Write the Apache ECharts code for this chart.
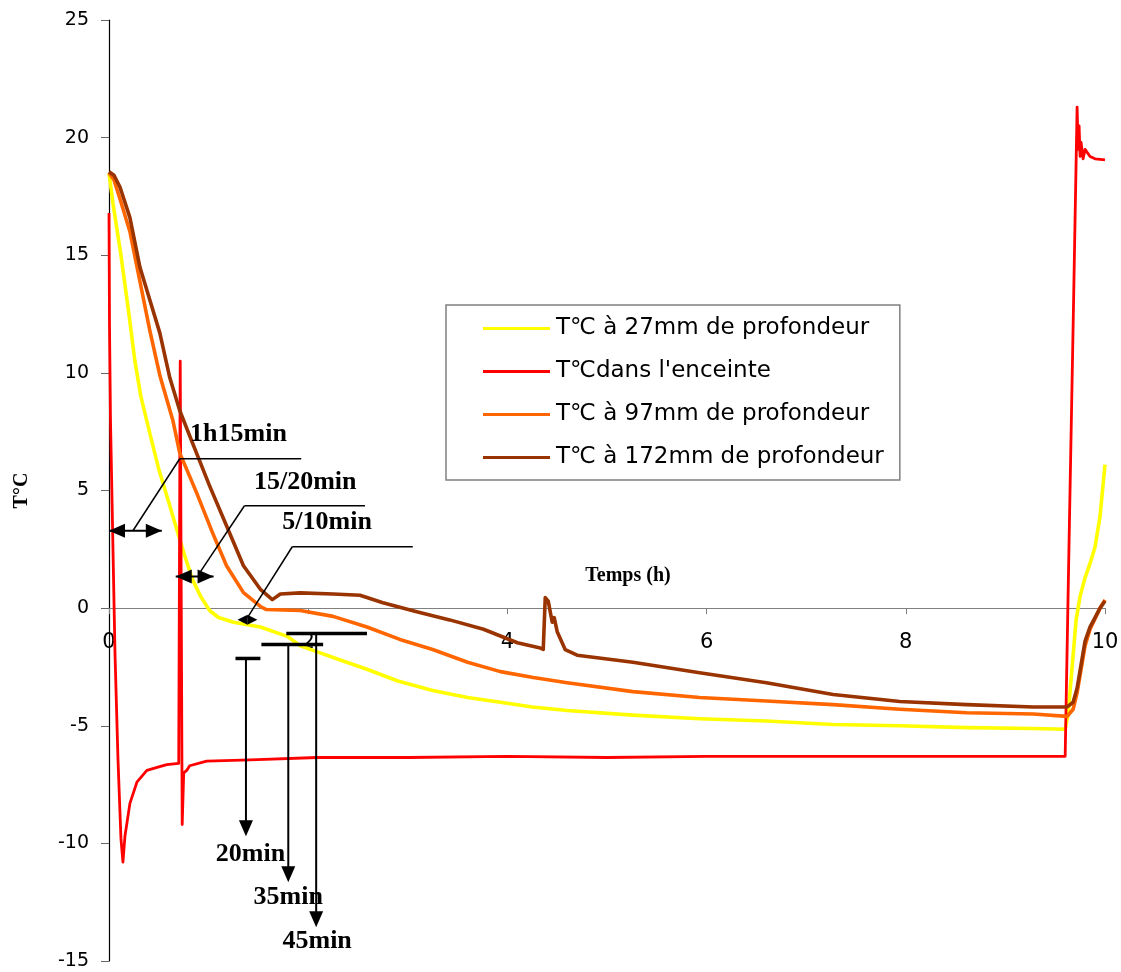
<!DOCTYPE html>
<html>
<head>
<meta charset="utf-8">
<script src="https://cdn.jsdelivr.net/npm/echarts@6/dist/echarts.min.js"></script>
<style>
html,body{margin:0;padding:0;background:#fff;}
#chart{width:1121px;height:972px;}
</style>
</head>
<body>
<div id="chart"></div>
<script>
// ---------- Data (time in hours, temperature in °C) ----------
const seriesNames = [
  "T\u2103 \u00e0 27mm de profondeur",
  "T\u2103dans l'enceinte",
  "T\u2103 \u00e0 97mm de profondeur",
  "T\u2103 \u00e0 172mm de profondeur"
];
const seriesColors = ["#FFFF00", "#FF0000", "#FF6600", "#993300"];

const t27 = [0,0.04,0.12,0.2,0.26,0.32,0.4,0.5,0.6,0.69,0.77,0.84,0.92,1.01,1.1,1.25,1.52,1.79,1.92,2.12,2.35,2.59,2.9,3.25,3.6,3.93,4.25,4.6,5.26,5.93,6.6,7.27,7.94,8.61,9.28,9.6,9.63,9.67,9.71,9.75,9.8,9.85,9.9,9.95,10];
const v27 = [18.5,17.2,15.0,12.5,10.5,9.0,7.6,5.9,4.5,3.2,2.1,1.2,0.5,-0.1,-0.4,-0.6,-0.8,-1.2,-1.6,-1.9,-2.25,-2.6,-3.1,-3.5,-3.8,-4.0,-4.2,-4.35,-4.55,-4.7,-4.8,-4.95,-5.0,-5.08,-5.12,-5.15,-4.5,-2.5,-0.5,0.5,1.3,1.9,2.6,3.9,6.1];

const tAir = [0,0.005,0.015,0.06,0.09,0.12,0.14,0.16,0.21,0.28,0.38,0.5,0.58,0.7,0.715,0.735,0.75,0.78,0.81,0.98,1.42,2.09,3,4,5,6,7,8,9,9.6,9.64,9.68,9.72,9.73,9.74,9.75,9.76,9.78,9.8,9.85,9.9,10];
const vAir = [16.8,12,8,-1.9,-6.4,-9.8,-10.8,-9.7,-8.3,-7.4,-6.9,-6.75,-6.65,-6.6,10.5,-9.2,-7.0,-6.9,-6.7,-6.5,-6.45,-6.35,-6.35,-6.3,-6.35,-6.3,-6.3,-6.3,-6.3,-6.3,3,12,21.3,19.5,20.5,19.2,19.8,19.1,19.5,19.2,19.1,19.05];

const t97 = [0,0.05,0.11,0.21,0.31,0.41,0.51,0.64,0.71,0.88,1.04,1.18,1.35,1.52,1.58,1.92,2.25,2.59,2.92,3.25,3.6,3.93,4.26,4.6,5.26,5.93,6.6,7.27,7.94,8.61,9.28,9.62,9.68,9.72,9.76,9.8,9.85,9.9,9.95,10];
const v97 = [18.5,18.2,17.4,16.0,13.9,11.8,9.9,8.0,6.6,4.9,3.2,1.8,0.66,0.07,-0.06,-0.1,-0.35,-0.8,-1.33,-1.76,-2.3,-2.7,-2.95,-3.17,-3.55,-3.8,-3.95,-4.1,-4.3,-4.45,-4.5,-4.6,-4.3,-3.6,-2.6,-1.6,-0.9,-0.45,0,0.35];

const t172 = [0,0.05,0.11,0.21,0.31,0.41,0.51,0.61,0.71,0.84,1.01,1.18,1.35,1.52,1.64,1.72,1.92,2.25,2.52,2.75,3.09,3.42,3.76,4.1,4.33,4.36,4.38,4.41,4.45,4.47,4.5,4.58,4.7,5.26,5.93,6.6,7.27,7.94,8.61,9.28,9.62,9.68,9.72,9.76,9.8,9.85,9.9,9.95,10];
const v172 = [18.55,18.4,17.9,16.6,14.5,13.1,11.7,9.8,8.4,7.0,5.2,3.5,1.8,0.8,0.36,0.6,0.65,0.6,0.55,0.23,-0.15,-0.5,-0.9,-1.47,-1.7,-1.75,0.45,0.3,-0.6,-0.4,-1.0,-1.76,-2.0,-2.3,-2.75,-3.17,-3.67,-3.97,-4.1,-4.2,-4.2,-4.0,-3.4,-2.4,-1.4,-0.8,-0.4,0,0.3];

// axis ranges / ticks
const xMin = 0, xMax = 10, xStep = 2;
const yMin = -15, yMax = 25, yStep = 5;

// ---------- Annotations (data coordinates) ----------
const leaderLines = [            // [x1, y1, x2, y2]
  [0.71, 6.35, 1.93, 6.35], [0.71, 6.35, 0.24, 3.29],
  [1.36, 4.35, 2.57, 4.35], [1.36, 4.35, 0.91, 1.50],
  [1.84, 2.61, 3.05, 2.61], [1.84, 2.61, 1.39, -0.40]
];
const doubleArrows = [           // [x1, x2, y]
  [0.0, 0.53, 3.29], [0.67, 1.05, 1.34]
];
const smallDoubleArrows = [[1.29, 1.49, -0.49]];
const tBars = [                   // [x1, x2, y]
  [1.27, 1.52, -2.14], [1.53, 2.15, -1.55], [1.78, 2.59, -1.08]
];
const downArrows = [              // [x, yTop, yTip]
  [1.375, -2.14, -9.7], [1.80, -1.55, -11.65], [2.08, -1.08, -13.57]
];
const annoLabels = [              // [x, y, text]
  [1.30, 7.37, "1h15min"],
  [1.97, 5.37, "15/20min"],
  [2.19, 3.63, "5/10min"],
  [1.42, -10.46, "20min"],
  [1.80, -12.3, "35min"],
  [2.09, -14.16, "45min"]
];

// ---------- helpers ----------
function zip(t, v) { return t.map((x, i) => [x, v[i]]); }
function arrowHead(p1, p2, len, hw) {
  const dx = p2[0] - p1[0], dy = p2[1] - p1[1];
  const L = Math.sqrt(dx * dx + dy * dy) || 1;
  const ux = dx / L, uy = dy / L;
  const bx = p2[0] - ux * len, by = p2[1] - uy * len;
  return {
    type: 'polygon',
    shape: { points: [[p2[0], p2[1]], [bx - uy * hw, by + ux * hw], [bx + uy * hw, by - ux * hw]] },
    style: { fill: '#000' }
  };
}
const lineStyleBlack = (w) => ({ stroke: '#000', lineWidth: w });

const W = 1121, H = 972;
const gridTop = 20, gridBottom = 11, gridLeft = 109, gridRight = 16;
const plotH = H - gridTop - gridBottom;
// move the x axis up so that it sits on y = 0
const xAxisOffset = -plotH * (0 - yMin) / (yMax - yMin);

const chart = echarts.init(document.getElementById('chart'), null, { renderer: 'canvas' });

const lineSeries = [[t27, v27], [tAir, vAir], [t97, v97], [t172, v172]].map((s, i) => ({
  type: 'line',
  name: seriesNames[i],
  data: zip(s[0], s[1]),
  showSymbol: false,
  symbol: 'none',
  lineStyle: { color: seriesColors[i], width: i === 1 ? 2.8 : 3.6, join: 'round' },
  itemStyle: { color: seriesColors[i] },
  z: 2 + i
}));

const annoSeries = [
  {
    type: 'custom', name: 'leaders', silent: true, clip: false, z: 10,
    data: leaderLines,
    encode: { x: [0, 2], y: [1, 3] },
    renderItem: (params, api) => {
      const p1 = api.coord([api.value(0), api.value(1)]);
      const p2 = api.coord([api.value(2), api.value(3)]);
      return { type: 'line', shape: { x1: p1[0], y1: p1[1], x2: p2[0], y2: p2[1] }, style: lineStyleBlack(1.5) };
    }
  },
  {
    type: 'custom', name: 'doubleArrows', silent: true, clip: false, z: 10,
    data: doubleArrows,
    encode: { x: [0, 1], y: 2 },
    renderItem: (params, api) => {
      const a = api.coord([api.value(0), api.value(2)]);
      const b = api.coord([api.value(1), api.value(2)]);
      return { type: 'group', children: [
        { type: 'line', shape: { x1: a[0], y1: a[1], x2: b[0], y2: b[1] }, style: lineStyleBlack(2) },
        arrowHead(b, a, 16, 7), arrowHead(a, b, 16, 7)
      ] };
    }
  },
  {
    type: 'custom', name: 'smallDoubleArrows', silent: true, clip: false, z: 10,
    data: smallDoubleArrows,
    encode: { x: [0, 1], y: 2 },
    renderItem: (params, api) => {
      const a = api.coord([api.value(0), api.value(2)]);
      const b = api.coord([api.value(1), api.value(2)]);
      const m = [(a[0] + b[0]) / 2, a[1]];
      return { type: 'group', children: [
        arrowHead(m, a, 10, 5), arrowHead(m, b, 10, 5)
      ] };
    }
  },
  {
    type: 'custom', name: 'tBars', silent: true, clip: false, z: 10,
    data: tBars,
    encode: { x: [0, 1], y: 2 },
    renderItem: (params, api) => {
      const a = api.coord([api.value(0), api.value(2)]);
      const b = api.coord([api.value(1), api.value(2)]);
      return { type: 'line', shape: { x1: a[0], y1: a[1], x2: b[0], y2: b[1] }, style: lineStyleBlack(3.5) };
    }
  },
  {
    type: 'custom', name: 'downArrows', silent: true, clip: false, z: 10,
    data: downArrows,
    encode: { x: 0, y: [1, 2] },
    renderItem: (params, api) => {
      const a = api.coord([api.value(0), api.value(1)]);
      const b = api.coord([api.value(0), api.value(2)]);
      return { type: 'group', children: [
        { type: 'line', shape: { x1: a[0], y1: a[1], x2: b[0], y2: b[1] - 10 }, style: lineStyleBlack(2) },
        arrowHead(a, b, 16, 7)
      ] };
    }
  },
  {
    type: 'custom', name: 'labels', silent: true, clip: false, z: 11,
    data: annoLabels.map(d => [d[0], d[1]]),
    encode: { x: 0, y: 1 },
    renderItem: (params, api) => {
      const p = api.coord([api.value(0), api.value(1)]);
      return { type: 'text', x: p[0], y: p[1], style: {
        text: annoLabels[params.dataIndex][2], fill: '#000',
        font: 'bold 26px "Liberation Serif", "Times New Roman", serif',
        align: 'center', verticalAlign: 'middle'
      } };
    }
  }
];

chart.setOption({
  animation: false,
  backgroundColor: '#fff',
  grid: { left: gridLeft, right: gridRight, top: gridTop, bottom: gridBottom, containLabel: false, outerBoundsMode: 'none' },
  legend: {
    data: seriesNames,
    orient: 'vertical',
    left: 446, top: 305,
    padding: [12, 16, 11, 37],
    itemGap: 20,
    itemWidth: 67, itemHeight: 3,
    icon: 'rect',
    backgroundColor: '#fff',
    borderColor: '#808080', borderWidth: 1.5,
    textStyle: { fontFamily: '"DejaVu Sans", sans-serif', fontSize: 23, color: '#000', padding: [0, 0, 0, 1] },
    selectedMode: false
  },
  xAxis: {
    type: 'value', min: xMin, max: xMax, interval: xStep,
    position: 'bottom', offset: xAxisOffset,
    name: 'Temps (h)', nameLocation: 'middle', nameGap: -42,
    nameTextStyle: { fontFamily: '"Liberation Serif", serif', fontWeight: 'bold', fontSize: 20, color: '#000', padding: [0, 0, 0, 42] },
    axisLine: { onZero: false, lineStyle: { color: '#808080', width: 1.2 } },
    axisTick: { show: true, length: 6, lineStyle: { color: '#808080' } },
    axisLabel: { fontFamily: '"DejaVu Sans", sans-serif', fontSize: 21, color: '#000', margin: 24 },
    splitLine: { show: false }
  },
  yAxis: {
    type: 'value', min: yMin, max: yMax, interval: yStep,
    name: 'T°C', nameLocation: 'middle', nameGap: 77, nameRotate: 90,
    nameTextStyle: { fontFamily: '"Liberation Serif", serif', fontWeight: 'bold', fontSize: 20, color: '#000' },
    axisLine: { show: true, onZero: false, lineStyle: { color: '#000', width: 1.2 } },
    axisTick: { show: true, length: 8, lineStyle: { color: '#666' } },
    axisLabel: { fontFamily: '"DejaVu Sans", sans-serif', fontSize: 19, color: '#000', margin: 20 },
    splitLine: { show: false }
  },
  series: lineSeries.concat(annoSeries)
});
</script>
</body>
</html>
